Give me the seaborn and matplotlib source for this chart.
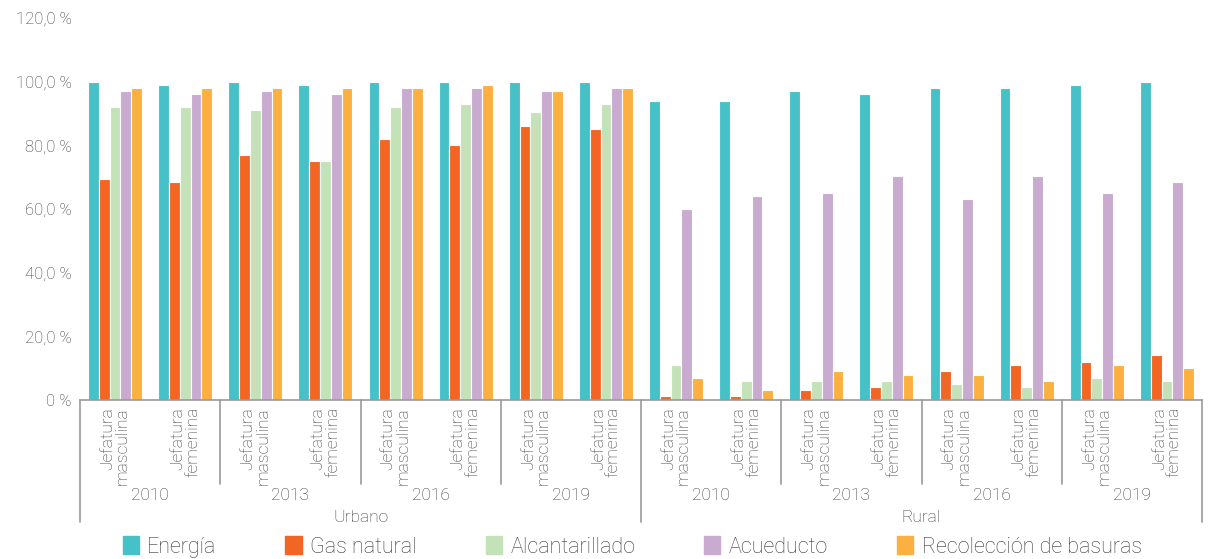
import matplotlib
matplotlib.use("Agg")
import matplotlib.pyplot as plt
import matplotlib.transforms as mtransforms
from matplotlib.lines import Line2D
from matplotlib.ticker import FuncFormatter
import seaborn as sns
import pandas as pd

# Data (%)
zones = ["Urbano", "Rural"]
years = ["2010", "2013", "2016", "2019"]
heads = ["Jefatura\nmasculina", "Jefatura\nfemenina"]
services = ["Energía", "Gas natural", "Alcantarillado", "Acueducto", "Recolección de basuras"]
colors = ["#47C1C8", "#F26522", "#C4E2B8", "#C9ABD0", "#FBB040"]

energia = [100, 99, 100, 99, 100, 100, 100, 100, 94, 94, 97, 96, 98, 98, 99, 100]
gas_natural = [69.5, 68.5, 77, 75, 82, 80, 86, 85, 1.3, 1.3, 3.2, 4, 9, 11, 12, 14]
alcantarillado = [92, 92, 91, 75, 92, 93, 90.5, 93, 11, 6, 6, 6, 5, 4, 7, 6]
acueducto = [97, 96, 97, 96, 98, 98, 97, 98, 60, 64, 65, 70.5, 63, 70.5, 65, 68.5]
recoleccion = [98, 98, 98, 98, 98, 99, 97, 98, 7, 3.2, 9, 8, 8, 6, 11, 10]

series = [energia, gas_natural, alcantarillado, acueducto, recoleccion]
cats = [f"{z}|{y}|{h}" for z in zones for y in years for h in heads]

rows = []
for s, vals in zip(services, series):
    for c, v in zip(cats, vals):
        rows.append({"cat": c, "servicio": s, "valor": v})
df = pd.DataFrame(rows)

sns.set_theme(style="white")
plt.rcParams["font.family"] = ["Roboto", "DejaVu Sans"]
plt.rcParams["font.weight"] = "light"
TXT = "#3a3a3a"

fig = plt.figure(figsize=(12.09, 5.59), dpi=100)
ax = fig.add_axes([80 / 1209, 1 - 400 / 559, (1202 - 80) / 1209, (400 - 18) / 559])

sns.barplot(data=df, x="cat", y="valor", hue="servicio", order=cats,
            hue_order=services, palette=colors, saturation=1, width=0.77,
            edgecolor="white", linewidth=0.8, ax=ax, legend=False)

ax.set_ylim(0, 120)
ax.set_xlim(-0.5, len(cats) - 0.5)
ax.set_yticks(range(0, 121, 20))
ax.yaxis.set_major_formatter(FuncFormatter(
    lambda v, p: "0 %" if v == 0 else f"{v:.1f}".replace(".", ",") + " %"))
ax.tick_params(axis="y", labelsize=12, colors=TXT, length=0, pad=6)
ax.set_xticks([])
ax.set_xlabel("")
ax.set_ylabel("")
for side in ["top", "right", "left"]:
    ax.spines[side].set_visible(False)
ax.spines["bottom"].set_color("#999999")
ax.spines["bottom"].set_linewidth(1.2)

# multi-level category axis
tr = mtransforms.blended_transform_factory(ax.transData, fig.transFigure)
def fy(py):
    return 1 - py / 559

for i, c in enumerate(cats):
    z, y, h = c.split("|")
    ax.text(i, fy(407), h, transform=tr, rotation=90, ha="center", va="top",
            multialignment="right", fontsize=12.5, color=TXT, linespacing=1.0)

for k in range(len(zones) * len(years)):
    ax.text(2 * k + 0.5, fy(495), years[k % len(years)], transform=tr,
            ha="center", va="center", fontsize=12.5, color=TXT)

for k, z in enumerate(zones):
    ax.text(8 * k + 3.5, fy(518), z, transform=tr, ha="center", va="center",
            fontsize=12.5, color=TXT)

for k in range(len(zones) * len(years) + 1):
    x = 2 * k - 0.5
    bottom = 522 if k % 4 == 0 else 484
    fig.add_artist(Line2D([x, x], [fy(400), fy(bottom)], transform=tr,
                          color="#999999", lw=1.2, clip_on=False))

handles = [plt.Rectangle((0, 0), 1, 1, color=col) for col in colors]
fig.legend(handles, services, loc="center", bbox_to_anchor=(0.523, 1 - 547 / 559),
           ncol=5, frameon=False, fontsize=15.5, handlelength=0.75, handleheight=0.85,
           handletextpad=0.4, columnspacing=3.2, labelcolor=TXT)

fig.savefig("out.png", dpi=100)
